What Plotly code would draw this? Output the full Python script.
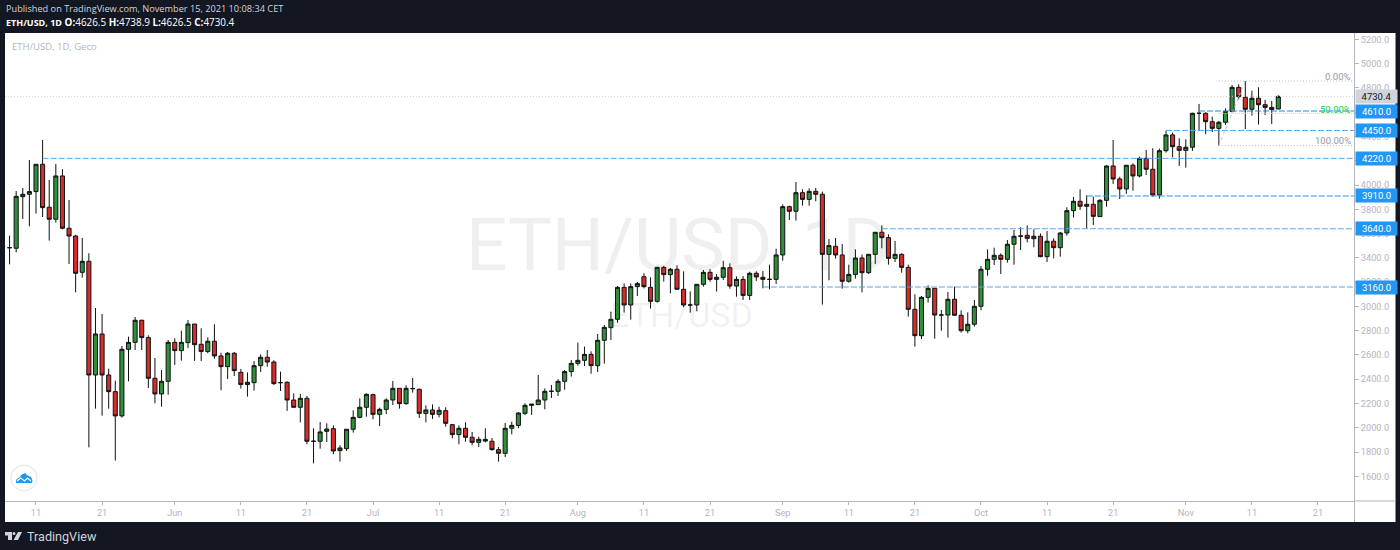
import pandas as pd
import plotly.graph_objects as go

start_day = "2021-05-07"
opens = [
3484,3479,3904,3924,3946,4171,3817,3718,4075,3644,
3580,3281,3372,2435,2773,2435,2298,2098,2647,2704,
2886,2743,2408,2279,2383,2704,2636,2702,2855,2688,
2628,2713,2592,2504,2614,2457,2356,2372,2512,2581,
2542,2372,2375,2229,2169,2243,1889,1889,1971,1993,
1812,1828,1988,2086,2169,2273,2111,2152,2229,2325,
2199,2323,2317,2119,2147,2111,2141,2026,1944,1996,
1922,1880,1905,1889,1820,1790,1996,2020,2119,2185,
2191,2229,2301,2301,2383,2463,2531,2556,2605,2512,
2721,2825,2894,3157,3012,3163,3245,3157,3042,3322,
3262,3306,3141,3012,3012,3182,3281,3223,3240,3319,
3168,3223,3091,3273,3240,3223,3223,3424,3822,3784,
3937,3882,3948,3924,3429,3495,3424,3207,3264,3399,
3278,3429,3611,3567,3396,3429,3322,2976,2759,3075,
3149,2929,2929,3059,2927,2800,2853,3001,3306,3388,
3421,3388,3512,3578,3586,3558,3578,3410,3537,3484,
3605,3789,3866,3825,3841,3740,3874,4157,4050,3968,
4163,4075,4220,4130,3918,4283,4413,4316,4286,4311,
4591,4591,4522,4467,4517,4607,4805,4723,4624,4715,
4662,4640,4626.5]
closes = [
3484,3907,3924,3946,4171,3814,3718,4075,3644,3580,
3273,3372,2435,2773,2435,2298,2098,2647,2704,2886,
2743,2408,2279,2383,2704,2636,2704,2855,2685,2628,
2713,2592,2504,2614,2471,2356,2375,2512,2581,2542,
2364,2372,2229,2169,2243,1889,1889,1966,1990,1809,
1834,1988,2086,2169,2276,2111,2152,2229,2325,2199,
2325,2323,2119,2147,2111,2144,2037,1944,1996,1922,
1880,1905,1891,1820,1790,1996,2020,2122,2185,2195,
2229,2301,2301,2383,2463,2531,2556,2605,2512,2721,
2828,2894,3157,3012,3163,3188,3163,3042,3322,3262,
3306,3141,3012,3012,3182,3281,3223,3240,3319,3168,
3223,3091,3273,3243,3223,3223,3424,3822,3784,3937,
3882,3948,3924,3429,3501,3424,3207,3264,3399,3278,
3429,3611,3567,3396,3429,3322,2976,2759,3075,3149,
2929,2929,3059,2927,2800,2853,3001,3306,3388,3421,
3388,3512,3578,3580,3561,3578,3410,3537,3484,3605,
3789,3866,3825,3841,3742,3874,4157,4050,3968,4163,
4075,4220,4130,3918,4283,4413,4316,4286,4311,4591,
4591,4522,4467,4517,4607,4805,4728,4624,4715,4662,
4640,4621,4730.4]
highs = [
3583,3951,3976,4206,4171,4371,4042,4174,4130,3877,
3590,3564,3438,2987,2938,2487,2389,2674,2751,2913,
2890,2762,2575,2476,2724,2737,2800,2888,2855,2820,
2746,2853,2619,2625,2625,2485,2457,2550,2605,2641,
2556,2463,2383,2284,2279,2262,1996,2048,2037,2020,
1856,1988,2144,2243,2284,2281,2166,2243,2386,2325,
2350,2410,2323,2185,2193,2174,2169,2031,2020,2045,
1966,1927,1996,1916,1842,2040,2051,2130,2202,2195,
2435,2325,2353,2400,2476,2559,2702,2669,2630,2773,
2847,2957,3168,3190,3190,3201,3273,3240,3322,3333,
3317,3339,3289,3124,3182,3300,3308,3267,3377,3355,
3248,3251,3286,3289,3292,3344,3476,3841,3830,4025,
3965,3973,3976,3946,3556,3564,3514,3344,3470,3427,
3432,3611,3668,3594,3539,3437,3344,3100,3086,3174,
3149,2971,3119,3163,2968,2951,3053,3333,3470,3484,
3437,3547,3630,3652,3668,3635,3602,3621,3561,3613,
3817,3902,3965,3915,3905,3883,4163,4371,4069,4165,
4179,4234,4289,4303,4300,4448,4432,4385,4377,4596,
4668,4599,4564,4528,4632,4824,4830,4857,4778,4805,
4701,4693,4738.9]
lows = [
3347,3446,3720,3660,3764,3737,3542,3690,3635,3350,
3116,3237,1839,2158,2100,2158,1730,2084,2383,2641,
2641,2328,2202,2174,2273,2518,2553,2658,2551,2551,
2614,2570,2309,2402,2427,2323,2257,2306,2460,2504,
2353,2303,2139,2166,2045,1864,1707,1828,1883,1784,
1721,1809,1960,2078,2092,2070,2015,2114,2188,2158,
2191,2290,2081,2045,2073,2086,2010,1913,1864,1886,
1856,1842,1880,1812,1721,1760,1946,1996,2106,2106,
2191,2152,2246,2262,2314,2422,2512,2509,2446,2460,
2529,2724,2866,2949,2891,3086,3149,2982,3031,3204,
3108,3141,2993,2949,2960,3163,3204,3122,3218,3146,
3080,3053,3053,3210,3149,3141,3185,3377,3712,3707,
3830,3830,3866,3015,3215,3394,3146,3196,3229,3116,
3267,3350,3479,3344,3366,3278,2916,2669,2732,3031,
2735,2800,2743,2924,2784,2778,2833,2968,3253,3341,
3267,3361,3344,3465,3528,3487,3405,3366,3396,3410,
3583,3732,3795,3641,3671,3737,3822,4009,3885,3927,
3954,4064,4083,3904,3888,4267,4229,4157,4143,4281,
4445,4418,4437,4325,4495,4599,4706,4462,4572,4498,
4577,4503,4626.5]

level_values = [4610, 4450, 4220, 3910, 3640, 3160]
level_start_candle = [180, 175, 5, 163, 132, 114]
level_colors = ["#1f88e0", "#55a5e8", "#55a5e8", "#2196f3", "#55a5e8", "#55a5e8"]
last_price = 4730.4
fib_low, fib_high = 4325, 4857
fib_labels = ["0.00%", "50.00%", "100.00%"]
y_ticks = list(range(1600, 5201, 200))
x_tick_dates = ["2021-05-11","2021-05-21","2021-06-01","2021-06-11","2021-06-21","2021-07-01",
                "2021-07-11","2021-07-21","2021-08-01","2021-08-11","2021-08-21","2021-09-01",
                "2021-09-11","2021-09-21","2021-10-01","2021-10-11","2021-10-21","2021-11-01",
                "2021-11-11","2021-11-21"]
x_tick_text = ["11","21","Jun","11","21","Jul","11","21","Aug","11","21","Sep","11","21","Oct","11","21","Nov","11","21"]

dates = pd.date_range(start_day, periods=len(opens), freq="D")
X_RANGE = ["2021-05-06 07:26", "2021-11-26 10:48"]
Y_RANGE = [1397, 5252.6]

# plot box in pixels
L, R, T, B = 5, 1354, 33, 501
def px(x): return (x - L) / (R - L)
def py(y): return (B - y) / (B - T)
def path(pts, close=True):
    s = "M" + " L".join(f"{px(a):.5f},{py(b):.5f}" for a, b in pts)
    return s + (" Z" if close else "")

fig = go.Figure()
fig.add_trace(go.Candlestick(
    x=dates, open=opens, high=highs, low=lows, close=closes,
    increasing=dict(line=dict(color="#111111", width=1), fillcolor="#2f8f3b"),
    decreasing=dict(line=dict(color="#111111", width=1), fillcolor="#d62c2c"),
    whiskerwidth=0, hoverinfo="skip", showlegend=False))

def hline(x0, x1, y0, y1, color, dash, width=1):
    fig.add_trace(go.Scatter(x=[x0, x1], y=[y0, y1], mode="lines", hoverinfo="skip", showlegend=False,
                             line=dict(color=color, dash=dash, width=width)))

hline(X_RANGE[0], X_RANGE[1], last_price, last_price, "#cfd1d6", "1px,2px")
fib_mid = (fib_low + fib_high) / 2
fib_start = dates[183]
hline(fib_start, X_RANGE[1], fib_high, fib_high, "#b2b5be", "1px,2px")
hline(fib_start, X_RANGE[1], fib_low, fib_low, "#b2b5be", "1px,2px")
hline(fib_start, X_RANGE[1], fib_mid, fib_mid, "#a5e6a8", "1px,1px")
hline(dates[183], dates[187], fib_low, fib_high, "#c4c6cc", "3px,3px")
for v, s, c in zip(level_values, level_start_candle, level_colors):
    hline(dates[s], X_RANGE[1], v, v, c, "6px,2px")

shapes = [
    dict(type="rect", xref="paper", yref="paper", x0=px(5), x1=px(1395.5), y0=py(33), y1=py(522),
         fillcolor="white", line_width=0, layer="below"),
    dict(type="line", xref="paper", yref="paper", x0=px(1354.5), x1=px(1354.5), y0=py(501), y1=py(522),
         line=dict(color="#b2b5be", width=1)),
    dict(type="line", xref="paper", yref="paper", x0=px(1354), x1=px(1395.5), y0=py(501), y1=py(501),
         line=dict(color="#b2b5be", width=1)),
    dict(type="circle", xref="paper", yref="paper", x0=px(11), x1=px(37), y0=py(465), y1=py(491),
         fillcolor="white", line=dict(color="#e0e3eb", width=1)),
    dict(type="path", xref="paper", yref="paper", line_width=0, fillcolor="#2196f3",
         path=path([(16,483),(16,480),(18,478),(20,477),(21,475),(23,474),(25,473),(27,475),(29,476),(31,477),(32,479),(32.5,481),(32,483)])),
    dict(type="path", xref="paper", yref="paper", line=dict(color="white", width=1.2),
         path=path([(17,481),(20.5,478),(24.5,481),(27.5,478),(31,481)], close=False)),
    dict(type="path", xref="paper", yref="paper", line_width=0, fillcolor="#d1d4dc",
         path=path([(5,532),(12,532),(12,540),(8,540),(8,535.5),(5,535.5)])),
    dict(type="circle", xref="paper", yref="paper", x0=px(12.6), x1=px(15.4), y0=py(532), y1=py(535),
         fillcolor="#d1d4dc", line_width=0),
    dict(type="path", xref="paper", yref="paper", line_width=0, fillcolor="#d1d4dc",
         path=path([(18,532),(22,532),(18,540),(13.5,540)])),
]

ann = []
def text(x, y, s, size=9.5, color="#b2b5be", anchor="left", family="Open Sans"):
    ann.append(dict(xref="paper", yref="paper", x=px(x), y=py(y), text=s, showarrow=False,
                    xanchor=anchor, yanchor="middle", align=anchor, borderpad=0,
                    font=dict(family=family, size=size, color=color)))

text(5, 9, "Published on TradingView.com, November 15, 2021 10:08:34 CET", 9.2, "#d1d4dc")
text(5, 22, "<b><span style=\"font-size:9px\">ETH/USD, 1D</span></b> <b>O:</b>4626.5 <b>H:</b>4738.9 <b>L:</b>4626.5 <b>C:</b>4730.4", 9.9, "#ffffff")
text(11, 46, "ETH/USD, 1D, Geco", 9.5, "#b5b6ba")
text(26, 536, "TradingView", 12.6, "#d1d4dc", family="Roboto")
text(678, 245, "ETH/USD, 1D", 73, "rgba(42,46,57,0.08)", "center", "Roboto")
text(681, 315, "ETH/USD", 34, "rgba(42,46,57,0.08)", "center", "Roboto")

for lab, p, col, sh in zip(fib_labels, [fib_high, fib_mid, fib_low], ["#9598a1", "#29cc3d", "#9598a1"], [5, 4, 5]):
    ann.append(dict(xref="paper", yref="y", x=px(1353), y=p, yshift=sh, text=lab, showarrow=False,
                    xanchor="right", yanchor="middle", font=dict(family="Roboto", size=9.5, color=col)))

def tag(p, s, bg, fg):
    ann.append(dict(xref="paper", yref="y", x=px(1354.5), y=p, text=s, showarrow=False, xanchor="left",
                    yanchor="middle", align="center", width=41, height=13, bgcolor=bg, borderpad=0,
                    font=dict(family="Roboto", size=9.5, color=fg)))
tag(last_price, f"{last_price:.1f}", "#d1d4dc", "#131722")
for v in level_values:
    tag(v, f"{v:.1f}", "#2196f3", "#ffffff")

fig.update_layout(
    width=1400, height=550, autosize=False,
    margin=dict(l=L, r=1400 - R, t=T, b=550 - B, pad=0),
    paper_bgcolor="#131722", plot_bgcolor="white", boxgap=0.12,
    showlegend=False, shapes=shapes, annotations=ann, hovermode=False,
    font=dict(family="Roboto", size=9.2, color="#b2b5be"),
    xaxis=dict(type="date", range=X_RANGE, rangeslider=dict(visible=False), showgrid=False, zeroline=False,
               tickmode="array", tickvals=x_tick_dates, ticktext=x_tick_text, tickangle=0,
               ticks="outside", ticklen=3, tickcolor="#b2b5be", showline=True, linecolor="#b2b5be", linewidth=1,
               tickfont=dict(family="Roboto", size=9.2, color="#b2b5be"), fixedrange=True),
    yaxis=dict(range=Y_RANGE, side="right", showgrid=False, zeroline=False,
               tickmode="array", tickvals=y_ticks, ticktext=[f"{v:.1f}" for v in y_ticks],
               ticks="outside", ticklen=4, tickcolor="#b2b5be", showline=True, linecolor="#b2b5be", linewidth=1,
               tickfont=dict(family="Roboto", size=9.2, color="#b2b5be"), fixedrange=True),
)

assert len(opens) == len(closes) == len(highs) == len(lows)
fig.write_html("out.html", config=dict(displayModeBar=False),
               post_script="document.body.style.margin='0';document.body.style.overflow='hidden';")
